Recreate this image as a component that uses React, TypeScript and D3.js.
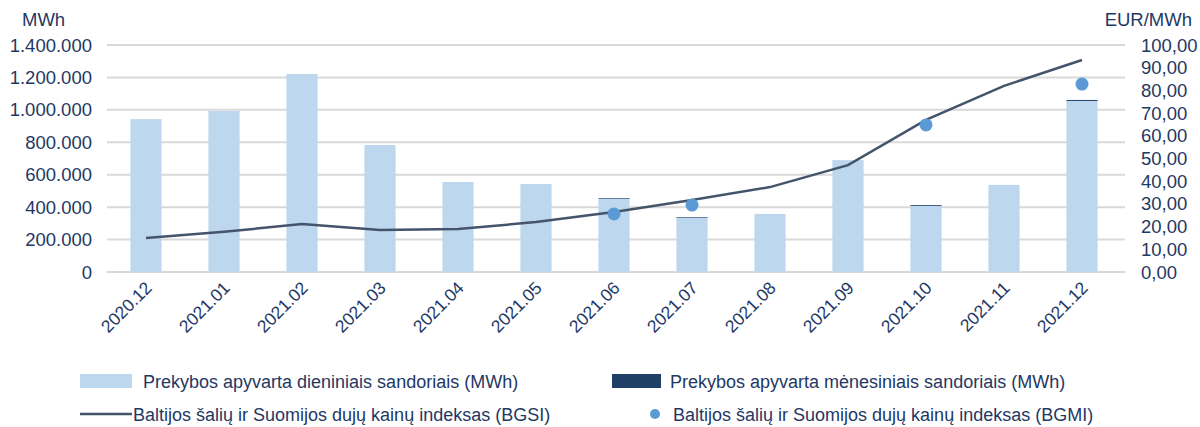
import React, { useEffect, useRef } from "react";
import * as d3 from "d3";

const months = ["2020.12", "2021.01", "2021.02", "2021.03", "2021.04", "2021.05", "2021.06", "2021.07", "2021.08", "2021.09", "2021.10", "2021.11", "2021.12"];
const daily = [943000, 993000, 1221000, 783000, 555000, 543000, 452000, 334000, 358000, 690000, 408000, 537000, 1055000];
const monthly = [0, 0, 0, 0, 0, 0, 4000, 4000, 0, 0, 5000, 0, 6000];
const bgsi = [15.0, 17.7, 21.1, 18.5, 18.9, 22.0, 26.4, 31.7, 37.4, 47.1, 67.0, 82.0, 93.4];
const bgmi: (number | null)[] = [null, null, null, null, null, null, 25.6, 29.5, null, null, 64.8, null, 82.8];
const leftTicks = [0, 200000, 400000, 600000, 800000, 1000000, 1200000, 1400000];
const rightTicks = [0, 10, 20, 30, 40, 50, 60, 70, 80, 90, 100];

const FONT = "'Liberation Sans', Arial, sans-serif";
const TXT = "#1f3864";

export default function App() {
  const ref = useRef<SVGSVGElement>(null);

  useEffect(() => {
    const svg = d3.select(ref.current);
    svg.selectAll("*").remove();
    const top = 45, bottom = 272, left = 107, right = 1121;

    const x = d3.scaleBand().domain(months).range([left, right]).paddingInner(0.6).paddingOuter(0.3);
    const yL = d3.scaleLinear().domain([0, 1400000]).range([bottom, top]);
    const yR = d3.scaleLinear().domain([0, 100]).range([bottom, top]);
    const fmtL = (v: number) => d3.format(",")(v).replace(/,/g, ".");
    const fmtR = (v: number) => v.toFixed(2).replace(".", ",");

    // gridlines
    svg.append("g").selectAll("line").data(leftTicks).enter().append("line")
      .attr("x1", left).attr("x2", right + 4)
      .attr("y1", (d) => yL(d)).attr("y2", (d) => yL(d))
      .attr("stroke", "#d9d9d9").attr("stroke-width", 2);

    // left ticks
    svg.append("g").selectAll("text").data(leftTicks).enter().append("text")
      .attr("x", 92).attr("y", (d) => yL(d) + 6.5)
      .attr("text-anchor", "end").attr("font-size", 18.5).attr("font-family", FONT).attr("fill", TXT)
      .text((d) => fmtL(d));
    // right ticks
    svg.append("g").selectAll("text").data(rightTicks).enter().append("text")
      .attr("x", 1141).attr("y", (d) => yR(d) + 6.5)
      .attr("font-size", 18.5).attr("font-family", FONT).attr("fill", TXT)
      .text((d) => fmtR(d));

    svg.append("text").attr("x", 22).attr("y", 26).attr("font-size", 18.5).attr("font-family", FONT).attr("fill", TXT).text("MWh");
    svg.append("text").attr("x", 1192).attr("y", 26).attr("text-anchor", "end").attr("font-size", 18.5).attr("font-family", FONT).attr("fill", TXT).text("EUR/MWh");

    // bars
    const bw = x.bandwidth();
    svg.append("g").selectAll("rect").data(months).enter().append("rect")
      .attr("x", (d) => x(d)!).attr("width", bw)
      .attr("y", (d, i) => yL(daily[i])).attr("height", (d, i) => bottom - yL(daily[i]))
      .attr("fill", "#bdd7ee");
    svg.append("g").selectAll("rect").data(months).enter().append("rect")
      .attr("x", (d) => x(d)!).attr("width", bw)
      .attr("y", (d, i) => yL(daily[i] + monthly[i])).attr("height", (d, i) => yL(daily[i]) - yL(daily[i] + monthly[i]))
      .attr("fill", "#1f3f66");

    // x labels
    svg.append("g").selectAll("text").data(months).enter().append("text")
      .attr("transform", (d) => `translate(${x(d)! + bw / 2 + 7},${289}) rotate(-45)`)
      .attr("text-anchor", "end").attr("font-size", 17.5).attr("font-family", FONT).attr("fill", TXT)
      .text((d) => d);

    // BGSI line
    const line = d3.line<number>().x((d, i) => x(months[i])! + bw / 2).y((d) => yR(d));
    svg.append("path").attr("d", line(bgsi)).attr("fill", "none").attr("stroke", "#44546a").attr("stroke-width", 2.5);

    // BGMI dots
    svg.append("g").selectAll("circle").data(months.filter((m, i) => bgmi[i] != null)).enter().append("circle")
      .attr("cx", (d) => x(d)! + bw / 2).attr("cy", (d) => yR(bgmi[months.indexOf(d)]!))
      .attr("r", 6.5).attr("fill", "#5b9bd5");

    // legend
    const lg = svg.append("g").attr("font-size", 18).attr("font-family", FONT).attr("fill", TXT);
    lg.append("rect").attr("x", 80).attr("y", 374).attr("width", 52).attr("height", 14).attr("fill", "#bdd7ee");
    lg.append("text").attr("x", 143).attr("y", 388).text("Prekybos apyvarta dieniniais sandoriais (MWh)");
    lg.append("rect").attr("x", 612).attr("y", 374).attr("width", 49).attr("height", 14).attr("fill", "#1f3f66");
    lg.append("text").attr("x", 670).attr("y", 388).text("Prekybos apyvarta mėnesiniais sandoriais (MWh)");
    lg.append("line").attr("x1", 80).attr("x2", 132).attr("y1", 414).attr("y2", 414).attr("stroke", "#44546a").attr("stroke-width", 2.5);
    lg.append("text").attr("x", 133).attr("y", 421).text("Baltijos šalių ir Suomijos dujų kainų indeksas (BGSI)");
    lg.append("circle").attr("cx", 655).attr("cy", 414).attr("r", 5).attr("fill", "#5b9bd5");
    lg.append("text").attr("x", 673).attr("y", 421).text("Baltijos šalių ir Suomijos dujų kainų indeksas (BGMI)");
  }, []);

  return (
    <div>
      <svg ref={ref} width={1200} height={427} style={{ display: "block", position: "absolute", left: 0, top: 0 }} />
    </div>
  );
}
